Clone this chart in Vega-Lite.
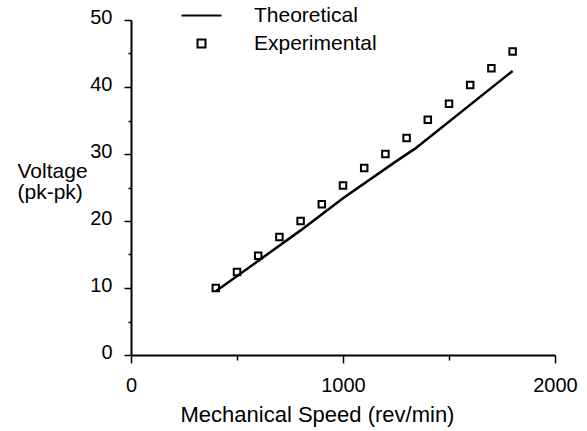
{
  "$schema": "https://vega.github.io/schema/vega-lite/v6.json",
  "width": 424,
  "height": 335,
  "autosize": {"type": "none"},
  "padding": {"left": 131, "top": 20, "right": 32, "bottom": 76},
  "background": "white",
  "config": {
    "view": {"stroke": null},
    "font": "Liberation Sans",
    "axis": {
      "grid": false,
      "domainColor": "black",
      "domainWidth": 2,
      "tickColor": "black",
      "tickWidth": 1.5,
      "labelColor": "black",
      "titleColor": "black",
      "labelFont": "Liberation Sans",
      "titleFont": "Liberation Sans",
      "titleFontWeight": "normal"
    }
  },
  "datasets": {
    "theory": [
      {"speed": 400, "voltage": 9.5, "series": "Theoretical"},
      {"speed": 800, "voltage": 18.6, "series": "Theoretical"},
      {"speed": 1000, "voltage": 23.4, "series": "Theoretical"},
      {"speed": 1250, "voltage": 28.9, "series": "Theoretical"},
      {"speed": 1340, "voltage": 30.8, "series": "Theoretical"},
      {"speed": 1800, "voltage": 42.4, "series": "Theoretical"}
    ],
    "exp": [
      {"speed": 400, "voltage": 10.0, "series": "Experimental"},
      {"speed": 500, "voltage": 12.4, "series": "Experimental"},
      {"speed": 600, "voltage": 14.8, "series": "Experimental"},
      {"speed": 700, "voltage": 17.6, "series": "Experimental"},
      {"speed": 800, "voltage": 20.0, "series": "Experimental"},
      {"speed": 900, "voltage": 22.5, "series": "Experimental"},
      {"speed": 1000, "voltage": 25.3, "series": "Experimental"},
      {"speed": 1100, "voltage": 27.9, "series": "Experimental"},
      {"speed": 1200, "voltage": 30.0, "series": "Experimental"},
      {"speed": 1300, "voltage": 32.4, "series": "Experimental"},
      {"speed": 1400, "voltage": 35.1, "series": "Experimental"},
      {"speed": 1500, "voltage": 37.5, "series": "Experimental"},
      {"speed": 1600, "voltage": 40.3, "series": "Experimental"},
      {"speed": 1700, "voltage": 42.8, "series": "Experimental"},
      {"speed": 1800, "voltage": 45.3, "series": "Experimental"}
    ]
  },
  "encoding": {
    "x": {
      "field": "speed",
      "type": "quantitative",
      "scale": {"domain": [0, 2000], "nice": false, "zero": false},
      "axis": {
        "values": [0, 500, 1000, 1500, 2000],
        "labelExpr": "datum.value % 1000 === 0 ? datum.label : ''",
        "format": "d",
        "tickSize": {"condition": {"test": "datum.value % 1000 === 0", "value": 8}, "value": 5},
        "labelFontSize": 20,
        "labelPadding": 12,
        "labelFlush": false,
        "title": "Mechanical Speed (rev/min)",
        "titleFontSize": 22,
        "titleX": 186,
        "titleY": 66,
        "titleBaseline": "alphabetic",
        "titleAlign": "center"
      }
    },
    "y": {
      "field": "voltage",
      "type": "quantitative",
      "scale": {"domain": [0, 50], "nice": false, "zero": false},
      "axis": {
        "values": [0, 5, 10, 15, 20, 25, 30, 35, 40, 45, 50],
        "labelExpr": "datum.value % 10 === 0 ? datum.label : ''",
        "tickSize": {"condition": {"test": "datum.value % 10 === 0", "value": 7}, "value": 3},
        "labelFontSize": 20,
        "labelPadding": 12,
        "labelOffset": -3,
        "labelFlush": false,
        "title": ["Voltage", "(pk-pk)"],
        "titleFontSize": 21,
        "titleAngle": 0,
        "titleAlign": "left",
        "titleBaseline": "alphabetic",
        "titleLineHeight": 21,
        "titleX": -114,
        "titleY": 157
      }
    }
  },
  "layer": [
    {
      "data": {"name": "theory"},
      "mark": {"type": "line", "color": "black", "strokeWidth": 2.5}
    },
    {
      "data": {"name": "exp"},
      "mark": {"type": "point", "filled": false, "color": "black", "strokeWidth": 2, "size": 42, "opacity": 1},
      "encoding": {
        "shape": {
          "field": "series",
          "type": "nominal",
          "scale": {"domain": ["Theoretical", "Experimental"], "range": ["M-5,0H5", "square"]},
          "legend": {
            "title": null,
            "orient": "none",
            "legendX": 60,
            "legendY": -15,
            "symbolSize": 64,
            "symbolStrokeWidth": 2,
            "symbolStrokeColor": "black",
            "symbolFillColor": "transparent",
            "labelFontSize": 21,
            "labelColor": "black",
            "labelFont": "Liberation Sans",
            "labelOffset": 42,
            "rowPadding": 6
          }
        }
      }
    }
  ]
}
